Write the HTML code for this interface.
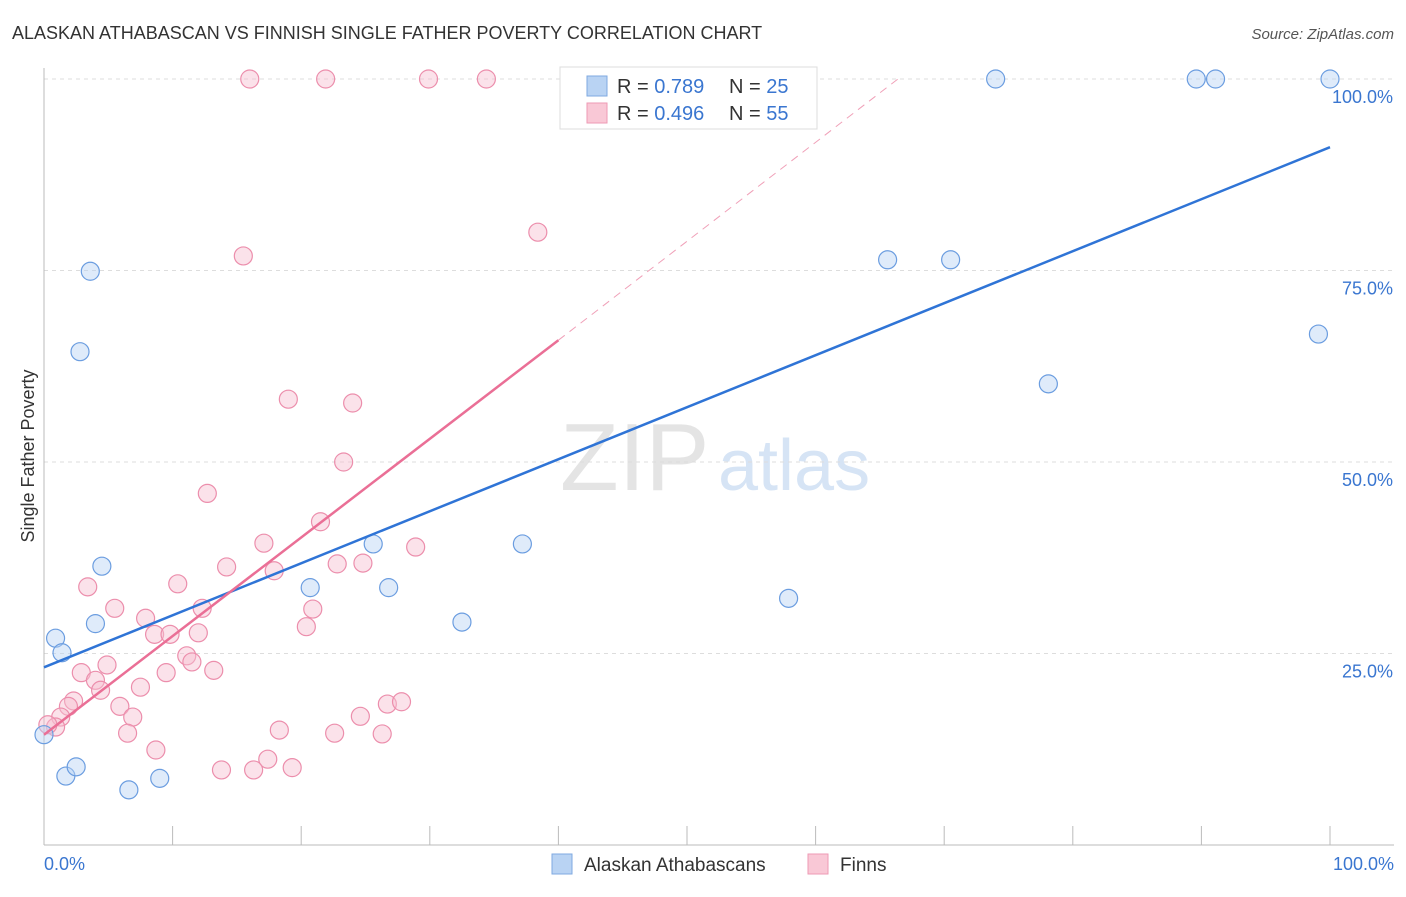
<!DOCTYPE html>
<html><head><meta charset="utf-8"><style>
body{margin:0;background:#fff;font-family:"Liberation Sans",sans-serif}
svg text{font-family:"Liberation Sans",sans-serif}
</style></head><body>
<svg width="1406" height="892">
<text x="12" y="39" font-size="18" fill="#333">ALASKAN ATHABASCAN VS FINNISH SINGLE FATHER POVERTY CORRELATION CHART</text>
<text x="1394" y="39" font-size="15" fill="#555" font-style="italic" text-anchor="end">Source: ZipAtlas.com</text>
<text x="560" y="490" font-size="96" fill="#e4e4e4" font-family="Liberation Serif">ZIP</text>
<text x="718" y="490" font-size="72" fill="#d6e4f5">atlas</text>
<g id="grid"></g><g id="axes"></g><g id="marks"></g>
<text transform="translate(34,456) rotate(-90)" font-size="18" fill="#333" text-anchor="middle">Single Father Poverty</text>
<text x="44" y="870" font-size="18" fill="#3a76d0">0.0%</text>
<text x="1394" y="870" font-size="18" fill="#3a76d0" text-anchor="end">100.0%</text>
<g>
<rect x="560" y="67" width="257" height="62" fill="#fff" stroke="#ddd"/>
<rect x="587" y="76" width="20" height="20" fill="#b9d3f3" stroke="#7fa9e0"/>
<text x="617" y="93" font-size="20" fill="#333">R = <tspan fill="#3a76d0">0.789</tspan></text>
<text x="729" y="93" font-size="20" fill="#333">N = <tspan fill="#3a76d0">25</tspan></text>
<rect x="587" y="103" width="20" height="20" fill="#f9c8d6" stroke="#ee9ab4"/>
<text x="617" y="120" font-size="20" fill="#333">R = <tspan fill="#3a76d0">0.496</tspan></text>
<text x="729" y="120" font-size="20" fill="#333">N = <tspan fill="#3a76d0">55</tspan></text>
</g>
<g>
<rect x="552" y="854" width="20" height="20" fill="#b9d3f3" stroke="#7fa9e0"/>
<text x="584" y="871" font-size="19" fill="#333">Alaskan Athabascans</text>
<rect x="808" y="854" width="20" height="20" fill="#f9c8d6" stroke="#ee9ab4"/>
<text x="840" y="871" font-size="19" fill="#333">Finns</text>
</g>
</svg>
<script>
const yTicks=[25,50,75,100];
const yTickLabels=["25.0%","50.0%","75.0%","100.0%"];
const xTicks=[0,10,20,30,40,50,60,70,80,90,100];
const blueX=[0,0.9,1.4,1.7,2.5,6.6,9.0,4.0,4.5,2.8,3.6,20.7,25.6,26.8,32.5,37.2,57.9,65.6,70.5,74.0,78.1,89.6,91.1,99.1,100];
const blueY=[14.4,27.0,25.1,9.0,10.2,7.2,8.7,28.9,36.4,64.4,74.9,33.6,39.3,33.6,29.1,39.3,32.2,76.4,76.4,100,60.2,100,100,66.7,100];
const pinkX=[16.0,21.9,29.9,34.4,38.4,15.5,19.0,24.0,23.3,12.7,21.5,17.1,28.9,14.2,17.9,22.8,24.8,10.4,3.4,12.3,20.9,5.5,7.9,8.6,9.8,12.0,20.4,11.1,11.5,4.9,2.9,9.5,13.2,4.0,7.5,2.3,4.4,1.9,5.9,6.9,1.3,26.7,27.8,24.6,18.3,6.5,22.6,26.3,8.7,17.4,13.8,16.3,19.3,0.9,0.3];
const pinkY=[100,100,100,100,80.0,76.9,58.2,57.7,50.0,45.9,42.2,39.4,38.9,36.3,35.8,36.7,36.8,34.1,33.7,30.9,30.8,30.9,29.6,27.5,27.5,27.7,28.5,24.7,23.9,23.5,22.5,22.5,22.8,21.5,20.6,18.8,20.2,18.1,18.1,16.7,16.7,18.4,18.7,16.8,15.0,14.6,14.6,14.5,12.4,11.2,9.8,9.8,10.1,15.4,15.7];
const blueTrend=[[0,23.2],[100,91.1]];
const pinkTrend=[[0,14.4],[40,65.9]];
const pinkDash=[[40,65.9],[66.4,100]];
const NS="http://www.w3.org/2000/svg";
const X=v=>44+v*12.86, Y=v=>845-v*7.66;
function mk(p,t,a){const e=document.createElementNS(NS,t);for(const k in a)e.setAttribute(k,a[k]);document.getElementById(p).appendChild(e);return e;}
yTicks.forEach((t,i)=>{
 const g=mk('grid','line',{x1:44,x2:1394,y1:Y(t),y2:Y(t),stroke:'#ddd','stroke-dasharray':'4,4'});
 
 
 const l=mk('grid','text',{x:1393,y:Y(t)+24,'font-size':18,fill:'#3a76d0','text-anchor':'end'});
 l.textContent=yTickLabels[i];
 
 
});
const ax=mk('axes','line',{x1:44,x2:44,y1:68,y2:845,stroke:'#bbb'});


const bx=mk('axes','line',{x1:44,x2:1394,y1:845,y2:845,stroke:'#bbb'});


xTicks.forEach(t=>{
 const e=mk('axes','line',{x1:X(t),x2:X(t),y1:826,y2:845,stroke:'#bbb'});
 
 
});
function dot(x,y,f,s,n){const c=mk('marks','circle',{cx:X(x),cy:Y(y),r:9,fill:f,'fill-opacity':0.45,stroke:s,'stroke-width':1.2});
 
 }
pinkX.forEach((x,i)=>dot(x,pinkY[i],'#f7bfd0','#ec8eac','finns-point'));
blueX.forEach((x,i)=>dot(x,blueY[i],'#b9d3f3','#6b9de0','athabascan-point'));
function ln(p,c,n,d){const e=mk('marks','line',{x1:X(p[0][0]),y1:Y(p[0][1]),x2:X(p[1][0]),y2:Y(p[1][1]),stroke:c,'stroke-width':d?1:2.5});
 if(d)e.setAttribute('stroke-dasharray','8,6');
 
 }
ln(pinkDash,'#f0a0b8','finns-trend-extension',true);
ln(blueTrend,'#2f74d6','athabascan-trend-line');
ln(pinkTrend,'#ea6f96','finns-trend-line');
</script>
</body></html>
